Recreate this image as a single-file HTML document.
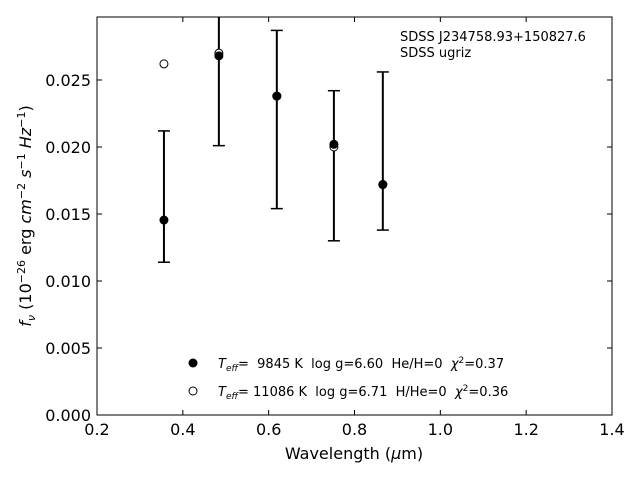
<!DOCTYPE html>
<html><head><meta charset="utf-8"><style>
body{margin:0;background:#fff;}
svg text{font-family:"DejaVu Sans","Liberation Sans",sans-serif;white-space:pre;}
</style></head><body>
<svg id="chart" width="640" height="480" xmlns="http://www.w3.org/2000/svg">
<rect x="97" y="17" width="515" height="398" fill="none" stroke="#000" stroke-width="1"/>
<g id="ticks"></g>
<g id="marks"></g>
<text x="354" y="459" font-size="16" text-anchor="middle">Wavelength (<tspan font-style="italic">μ</tspan>m)</text>
<text transform="translate(31,216) rotate(-90)" font-size="16" text-anchor="middle"><tspan font-style="italic">f<tspan font-size="11" dy="4">ν</tspan></tspan><tspan dy="-4"> (10</tspan><tspan font-size="11" dy="-6">−26</tspan><tspan dy="6"> erg </tspan><tspan font-style="italic">cm</tspan><tspan font-size="11" dy="-6">−2</tspan><tspan dy="6" font-style="italic"> s</tspan><tspan font-size="11" dy="-6">−1</tspan><tspan dy="6" font-style="italic"> Hz</tspan><tspan font-size="11" dy="-6">−1</tspan><tspan dy="6">)</tspan></text>
<text x="400" y="41" font-size="13">SDSS J234758.93+150827.6</text>
<text x="400" y="57" font-size="13">SDSS ugriz</text>
<g>
<circle cx="193" cy="363" r="4.5" fill="#000"/>
<text x="218" y="368" font-size="13" xml:space="preserve"><tspan font-style="italic">T<tspan font-size="9" dy="3">eff</tspan></tspan><tspan dy="-3">=  9845 K  log g=6.60  He/H=0  </tspan><tspan font-style="italic">χ</tspan><tspan font-size="9" dy="-5">2</tspan><tspan dy="5">=0.37</tspan></text>
<circle cx="193" cy="391" r="4" fill="#fff" stroke="#000"/>
<text x="218" y="396" font-size="13" xml:space="preserve"><tspan font-style="italic">T<tspan font-size="9" dy="3">eff</tspan></tspan><tspan dy="-3">= 11086 K  log g=6.71  H/He=0  </tspan><tspan font-style="italic">χ</tspan><tspan font-size="9" dy="-5">2</tspan><tspan dy="5">=0.36</tspan></text>
</g>
</svg>
<script>
const wavelengths=[0.356,0.484,0.619,0.752,0.866];
const observedFlux=[0.01455,0.0268,0.0238,0.0202,0.0172];
const errUpper=[0.0212,0.0305,0.0287,0.0242,0.0256];
const errLower=[0.0114,0.0201,0.0154,0.0130,0.0138];
const modelFlux=[0.0262,0.0270,0.0238,0.0200,0.0172];
const xTicks=[0.2,0.4,0.6,0.8,1.0,1.2,1.4];
const xTickLabels=["0.2","0.4","0.6","0.8","1.0","1.2","1.4"];
const yTicks=[0,0.005,0.01,0.015,0.02,0.025];
const yTickLabels=["0.000","0.005","0.010","0.015","0.020","0.025"];
const L=97,R=612,T=17,B=415,xMin=0.2,xMax=1.4,yMin=0,yMax=0.0297;
const xs=v=>L+(v-xMin)/(xMax-xMin)*(R-L);
const ys=v=>B-(v-yMin)/(yMax-yMin)*(B-T);
const NS="http://www.w3.org/2000/svg";
function mk(tag,attrs,parent){const e=document.createElementNS(NS,tag);for(const k in attrs)e.setAttribute(k,attrs[k]);parent.appendChild(e);return e;}
const tg=document.getElementById('ticks'),mg=document.getElementById('marks');
xTicks.forEach((v,i)=>{const x=xs(v);
 let a=mk('line',{x1:x,x2:x,y1:B,y2:B-5,stroke:'#000'},tg);
 
 
 let b=mk('line',{x1:x,x2:x,y1:T,y2:T+5,stroke:'#000'},tg);
 
 
 let t=mk('text',{x:x,y:B+20,'font-size':16,'text-anchor':'middle'},tg);t.textContent=xTickLabels[i];
 
 });
yTicks.forEach((v,i)=>{const y=ys(v);
 let a=mk('line',{x1:L,x2:L+5,y1:y,y2:y,stroke:'#000'},tg);
 
 
 let b=mk('line',{x1:R,x2:R-5,y1:y,y2:y,stroke:'#000'},tg);
 
 
 let t=mk('text',{x:L-6,y:y+6,'font-size':16,'text-anchor':'end'},tg);t.textContent=yTickLabels[i];
 
 });
wavelengths.forEach((w,i)=>{const x=xs(w);
 const yt=Math.max(ys(errUpper[i]),T),yb=ys(errLower[i]);
 let e=mk('line',{x1:x,x2:x,y1:yt,y2:yb,stroke:'#000','stroke-width':2},mg);
 
 
 if(ys(errUpper[i])>=T){let c=mk('line',{x1:x-6,x2:x+6,y1:yt,y2:yt,stroke:'#000','stroke-width':1.5},mg);
 
 }
 let c2=mk('line',{x1:x-6,x2:x+6,y1:yb,y2:yb,stroke:'#000','stroke-width':1.5},mg);
 
 
 let o=mk('circle',{cx:x,cy:ys(modelFlux[i]),r:4,fill:'#fff',stroke:'#000'},mg);
 
 
 let f=mk('circle',{cx:x,cy:ys(observedFlux[i]),r:4.5,fill:'#000'},mg);
 
 });
</script>
</body></html>
